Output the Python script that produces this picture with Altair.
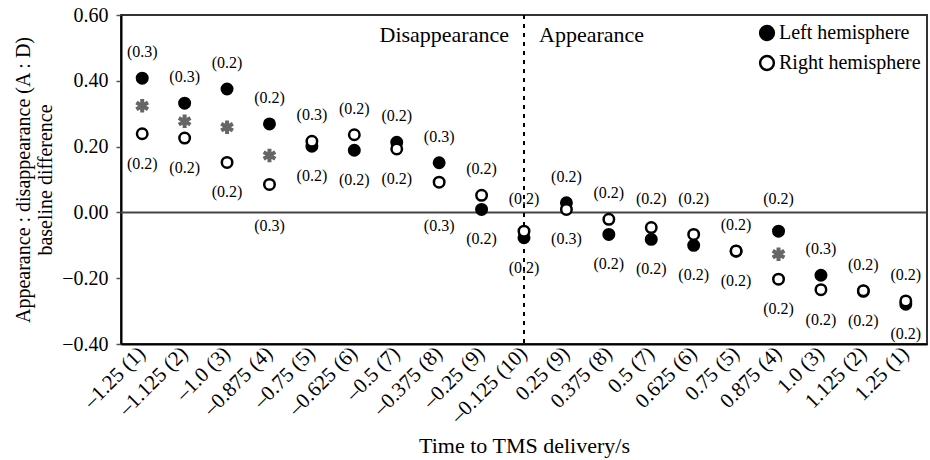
import altair as alt
import pandas as pd

categories = ["–1.25 (1)", "–1.125 (2)", "–1.0 (3)", "–0.875 (4)", "–0.75 (5)",
              "–0.625 (6)", "–0.5 (7)", "–0.375 (8)", "–0.25 (9)", "–0.125 (10)",
              "0.25 (9)", "0.375 (8)", "0.5 (7)", "0.625 (6)", "0.75 (5)",
              "0.875 (4)", "1.0 (3)", "1.125 (2)", "1.25 (1)"]
left_vals = [0.408, 0.332, 0.375, 0.269, 0.201, 0.189, 0.213, 0.151, 0.009, -0.077,
             0.029, -0.067, -0.082, -0.100, -0.118, -0.057, -0.191, -0.240, -0.279]
right_vals = [0.239, 0.226, 0.152, 0.085, 0.216, 0.236, 0.193, 0.092, 0.052, -0.057,
              0.009, -0.021, -0.046, -0.067, -0.117, -0.203, -0.235, -0.238, -0.269]
star_cats = ["–1.25 (1)", "–1.125 (2)", "–1.0 (3)", "–0.875 (4)", "0.875 (4)"]
star_vals = [0.324, 0.277, 0.259, 0.173, -0.127]
hi_labels = ["(0.3)", "(0.3)", "(0.2)", "(0.2)", "(0.3)", "(0.2)", "(0.2)", "(0.3)", "(0.2)", "(0.2)",
             "(0.2)", "(0.2)", "(0.2)", "(0.2)", "(0.2)", "(0.2)", "(0.3)", "(0.2)", "(0.2)"]
lo_labels = ["(0.2)", "(0.2)", "(0.2)", "(0.3)", "(0.2)", "(0.2)", "(0.2)", "(0.3)", "(0.2)", "(0.2)",
             "(0.3)", "(0.2)", "(0.2)", "(0.2)", "(0.2)", "(0.2)", "(0.2)", "(0.2)", "(0.2)"]
series_names = ["Left hemisphere", "Right hemisphere"]

FONT = "Liberation Serif"
Y_DOMAIN = [-0.4, 0.6]
PLOT_H = 329
UNIT = PLOT_H / (Y_DOMAIN[1] - Y_DOMAIN[0])   # pixels per data unit

rows = []
for c, v in zip(categories, left_vals):
    rows.append({"cat": c, "series": series_names[0], "value": v})
for c, v in zip(categories, right_vals):
    rows.append({"cat": c, "series": series_names[1], "value": v})
pts = pd.DataFrame(rows)

stars = pd.DataFrame({"cat": star_cats, "value": star_vals})


def hi_pos(a, b):
    y = max(a, b) + 26 / UNIT
    if abs(y) < 12 / UNIT:          # keep clear of the zero line
        y = 13 / UNIT
    return y


def lo_pos(a, b):
    y = min(a, b) - 30 / UNIT
    if abs(y) < 12 / UNIT:
        y = -14 / UNIT
    return y


hi = pd.DataFrame({"cat": categories, "label": hi_labels,
                   "value": [hi_pos(a, b) for a, b in zip(left_vals, right_vals)]})
lo = pd.DataFrame({"cat": categories, "label": lo_labels,
                   "value": [lo_pos(a, b) for a, b in zip(left_vals, right_vals)]})

xscale = alt.Scale(domain=categories)
xenc = alt.X("cat:N", sort=categories, scale=xscale,
             axis=alt.Axis(title="Time to TMS delivery/s", labelAngle=-45, labelFont=FONT,
                           labelFontSize=21, labelColor="black", ticks=False, labelPadding=6,
                           titleFont=FONT, titleFontSize=22, titleFontWeight="normal",
                           titleColor="black", titleY=101, titleBaseline="middle",
                           domainColor="black", domainWidth=2))
yscale = alt.Scale(domain=Y_DOMAIN, nice=False, zero=False)
yenc = alt.Y("value:Q", scale=yscale,
             axis=alt.Axis(title=["Appearance : disappearance (A : D)", "baseline difference"],
                           values=[-0.4, -0.2, 0, 0.2, 0.4, 0.6],
                           labelExpr="replace(format(datum.value, '.2f'), '-', '–')",
                           labelFont=FONT, labelFontSize=20, labelColor="black",
                           tickSize=5, tickColor="#555", tickWidth=1.5, labelPadding=8,
                           grid=False, titleFont=FONT, titleFontSize=20, titleLineHeight=22,
                           titleFontWeight="normal", titleColor="black", titlePadding=6,
                           domainColor="black", domainWidth=2))

base_points = alt.Chart(pts).mark_point(filled=True, stroke="black", strokeWidth=2.5,
                                        size=110, opacity=1).encode(
    x=xenc, y=yenc,
    fill=alt.Fill("series:N", scale=alt.Scale(domain=series_names, range=["black", "white"]),
                  legend=alt.Legend(orient="none", legendX=636, legendY=8, title=None,
                                    symbolStrokeColor="black", symbolStrokeWidth=2.5,
                                    symbolSize=190, labelFont=FONT, labelFontSize=20,
                                    labelColor="black", labelOffset=2, rowPadding=6,
                                    symbolType="circle", symbolOpacity=1))
)

zero_rule = alt.Chart(pd.DataFrame({"value": [0]})).mark_rule(color="#444", strokeWidth=2).encode(
    y=alt.Y("value:Q", scale=yscale))

dash_rule = alt.Chart(pd.DataFrame({"cat": ["–0.125 (10)"]})).mark_rule(
    color="black", strokeWidth=2, strokeDash=[4, 5]).encode(
    x=alt.X("cat:N", sort=categories, scale=xscale))

star_layer = alt.Chart(stars).mark_point(
    shape="M0,-1L0,1M-0.87,-0.5L0.87,0.5M-0.87,0.5L0.87,-0.5",
    filled=False, stroke="#666", strokeWidth=4, size=180, opacity=1).encode(
    x=alt.X("cat:N", sort=categories, scale=xscale),
    y=alt.Y("value:Q", scale=yscale))

hi_text = alt.Chart(hi).mark_text(font=FONT, fontSize=16, color="black",
                                  baseline="middle").encode(
    x=alt.X("cat:N", sort=categories, scale=xscale),
    y=alt.Y("value:Q", scale=yscale), text="label:N")
lo_text = alt.Chart(lo).mark_text(font=FONT, fontSize=16, color="black",
                                  baseline="middle").encode(
    x=alt.X("cat:N", sort=categories, scale=xscale),
    y=alt.Y("value:Q", scale=yscale), text="label:N")

region_df = pd.DataFrame({"cat": ["–0.125 (10)", "–0.125 (10)"],
                          "value": [0.54, 0.54],
                          "label": ["Disappearance", "Appearance"]})
dis_text = alt.Chart(region_df.iloc[[0]]).mark_text(
    font=FONT, fontSize=22, color="black", align="right", dx=-15, baseline="middle").encode(
    x=alt.X("cat:N", sort=categories, scale=xscale),
    y=alt.Y("value:Q", scale=yscale), text="label:N")
app_text = alt.Chart(region_df.iloc[[1]]).mark_text(
    font=FONT, fontSize=22, color="black", align="left", dx=15, baseline="middle").encode(
    x=alt.X("cat:N", sort=categories, scale=xscale),
    y=alt.Y("value:Q", scale=yscale), text="label:N")

chart = alt.layer(zero_rule, dash_rule, base_points, star_layer, hi_text, lo_text,
                  dis_text, app_text).properties(
    width=806, height=PLOT_H,
    autosize=alt.AutoSizeParams(type="none"),
    padding={"left": 121, "top": 15, "right": 3, "bottom": 116},
    background="white",
).configure_view(stroke="#333", strokeWidth=2)

chart.save("out.html", embed_options={"renderer": "svg", "actions": False})
